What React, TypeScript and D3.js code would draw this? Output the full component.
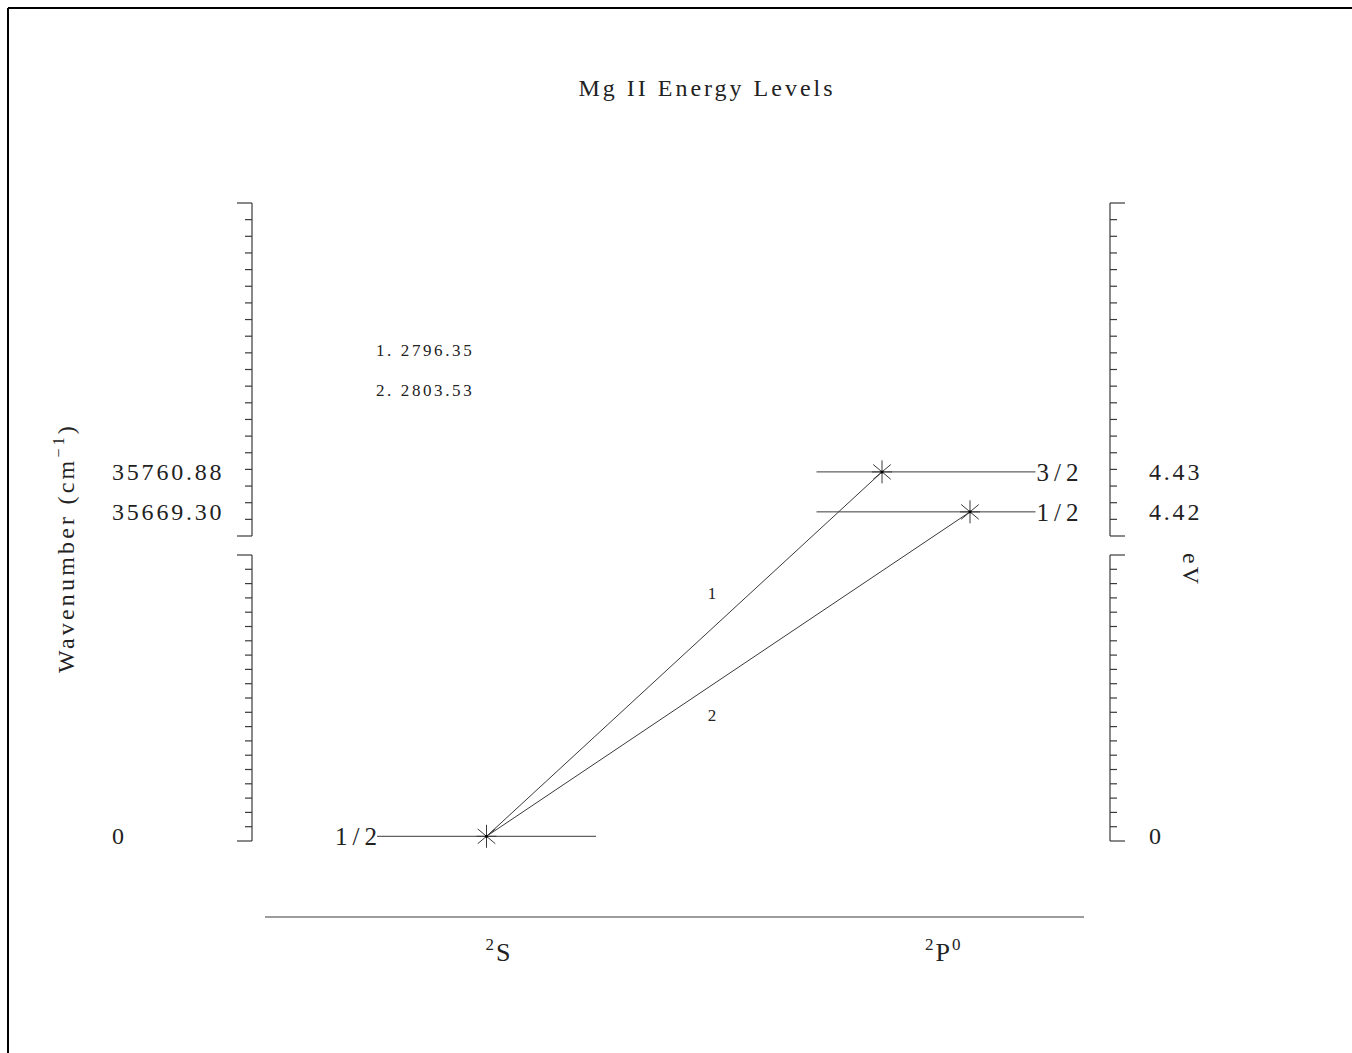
import React from "react";
import * as d3 from "d3";

// ---- data ----
const title = "Mg II Energy Levels";
const termPrefix = ["2", "2"];
const termLetter = ["S", "P"];
const termSuffix = ["", "0"];
const levelTerm = [0, 1, 1];
const levelJ = ["1/2", "3/2", "1/2"];
const levelWavenumber = [0, 35760.88, 35669.3];
const levelEV = ["0", "4.43", "4.42"];
const levelWnLabel = ["0", "35760.88", "35669.30"];
const transitionIds = [1, 2];
const transitionLower = [0, 0];
const transitionUpper = [1, 2];
const transitionWavelength = ["2796.35", "2803.53"];

// ---- layout ----
const W = 1352;
const H = 1053;
const FONT = "'Liberation Serif', 'DejaVu Serif', serif";
const INK = "#222";
const LINE = "#3a3a3a";

// broken vertical axis: lower segment (ground) and upper segment (excited)
const yLower = d3.scaleLinear().domain([-1000, 60000]).range([841, 555]);
const yUpper = d3.scaleLinear().domain([35614, 36377]).range([536, 203]);
const yOf = (v: number) => (v < 30000 ? yLower(v) : yUpper(v));

const xTerm = d3.scalePoint<number>().domain([0, 1]).range([486.5, 926]);
const halfWidth = 109.5;
const starSpread = 88;

const leftAxisX = 252;
const rightAxisX = 1110;

function segTicks(scale: d3.ScaleLinear<number, number>) {
  const [a, b] = scale.domain();
  return d3.range(21).map((i) => a + ((b - a) * i) / 20);
}

function Star({ x, y }: { x: number; y: number }) {
  const r = 11.5;
  const angles = [90, 40, 140];
  return (
    <g stroke={LINE} strokeWidth={1}>
      {angles.map((a) => {
        const rad = (a * Math.PI) / 180;
        const dx = r * Math.cos(rad);
        const dy = r * Math.sin(rad);
        return <line key={a} x1={x - dx} y1={y - dy} x2={x + dx} y2={y + dy} />;
      })}
      <line x1={x - 10} y1={y} x2={x + 10} y2={y} />
      <circle cx={x} cy={y} r={1.5} fill="#000" stroke="none" />
    </g>
  );
}

function AxisSeg({ scale, side }: { scale: d3.ScaleLinear<number, number>; side: "left" | "right" }) {
  const ticks = segTicks(scale);
  const x0 = side === "left" ? leftAxisX : rightAxisX;
  const dir = side === "left" ? -1 : 1;
  const [r0, r1] = scale.range();
  return (
    <g stroke={LINE} strokeWidth={1.2}>
      <line x1={x0} y1={r0} x2={x0} y2={r1} />
      {ticks.map((t, i) => {
        const len = i === 0 || i === 20 ? 15 : 7;
        const y = scale(t);
        return <line key={i} x1={x0} y1={y} x2={x0 + dir * len} y2={y} />;
      })}
    </g>
  );
}

export default function App() {
  // star x positions per level
  const starX = levelTerm.map((t, i) => {
    const same = levelTerm.map((tt, j) => (tt === t ? j : -1)).filter((j) => j >= 0);
    const k = same.indexOf(i);
    const n = same.length;
    return (xTerm(t) as number) + (k - (n - 1) / 2) * starSpread;
  });

  return (
    <svg
      width={W}
      height={H}
      style={{ display: "block", position: "fixed", left: 0, top: 0 }}
      fontFamily={FONT}
    >
      <rect x={0} y={0} width={W} height={H} fill="#fff" />
      <line x1={8} y1={8} x2={W} y2={8} stroke="#000" strokeWidth={2} />
      <line x1={8} y1={8} x2={8} y2={H} stroke="#000" strokeWidth={2} />

      <text x={707} y={96} textAnchor="middle" fontSize={24} letterSpacing={3} fill={INK}>
        {title}
      </text>

      {/* axes */}
      <AxisSeg scale={yUpper} side="left" />
      <AxisSeg scale={yLower} side="left" />
      <AxisSeg scale={yUpper} side="right" />
      <AxisSeg scale={yLower} side="right" />

      {/* axis labels */}
      <text transform={`translate(74,548) rotate(-90)`} textAnchor="middle" fontSize={24} letterSpacing={3.2} fill={INK}>
        Wavenumber (cm
        <tspan dy={-10} fontSize={16}>−1</tspan>
        <tspan dy={10}>)</tspan>
      </text>
      <text transform={`translate(1183,570) rotate(90)`} textAnchor="middle" fontSize={24} letterSpacing={3} fill={INK}>
        eV
      </text>

      {/* tick labels at levels */}
      {levelWavenumber.map((v, i) => (
        <g key={i} fontSize={24} letterSpacing={2.8} fill={INK}>
          <text x={112} y={yOf(v) + 8}>{levelWnLabel[i]}</text>
          <text x={1149} y={yOf(v) + 8}>{levelEV[i]}</text>
        </g>
      ))}

      {/* levels */}
      {levelWavenumber.map((v, i) => {
        const cx = xTerm(levelTerm[i]) as number;
        const y = yOf(v);
        const isLeft = levelTerm[i] === 0;
        return (
          <g key={i}>
            <line x1={cx - halfWidth} y1={y} x2={cx + halfWidth} y2={y} stroke={LINE} strokeWidth={1} />
            <text
              x={isLeft ? cx - halfWidth + 5 : cx + halfWidth + 1}
              y={y + 9}
              textAnchor={isLeft ? "end" : "start"}
              fontSize={25}
              letterSpacing={5}
              fill={INK}
            >
              {levelJ[i]}
            </text>
          </g>
        );
      })}

      {/* transitions */}
      {transitionIds.map((id, k) => {
        const lo = transitionLower[k];
        const up = transitionUpper[k];
        const x1 = starX[lo];
        const y1 = yOf(levelWavenumber[lo]);
        const x2 = starX[up];
        const y2 = yOf(levelWavenumber[up]);
        const mx = 712;
        const my = y1 + ((mx - x1) / (x2 - x1)) * (y2 - y1);
        const off = k === 0 ? -30 : 36;
        return (
          <g key={id}>
            <line x1={x1} y1={y1} x2={x2} y2={y2} stroke={LINE} strokeWidth={1} />
            <text x={mx} y={my + off} textAnchor="middle" fontSize={17} fill={INK}>
              {id}
            </text>
          </g>
        );
      })}

      {levelWavenumber.map((v, i) => (
        <Star key={i} x={starX[i]} y={yOf(v)} />
      ))}

      {/* legend */}
      {transitionIds.map((id, k) => (
        <text key={id} x={376} y={356 + k * 40} fontSize={17} letterSpacing={2.6} fill={INK}>
          {`${id}.  ${transitionWavelength[k]}`}
        </text>
      ))}

      {/* baseline and term labels */}
      <line x1={265} y1={917} x2={1084} y2={917} stroke={LINE} strokeWidth={1.2} />
      {termLetter.map((L, t) => (
        <text key={t} x={(xTerm(t) as number) - 1} y={961} fontSize={26} letterSpacing={2} fill={INK}>
          <tspan fontSize={17} dy={-11}>{termPrefix[t]}</tspan>
          <tspan dy={11}>{L}</tspan>
          {termSuffix[t] ? <tspan fontSize={17} dy={-11}>{termSuffix[t]}</tspan> : null}
        </text>
      ))}
    </svg>
  );
}
